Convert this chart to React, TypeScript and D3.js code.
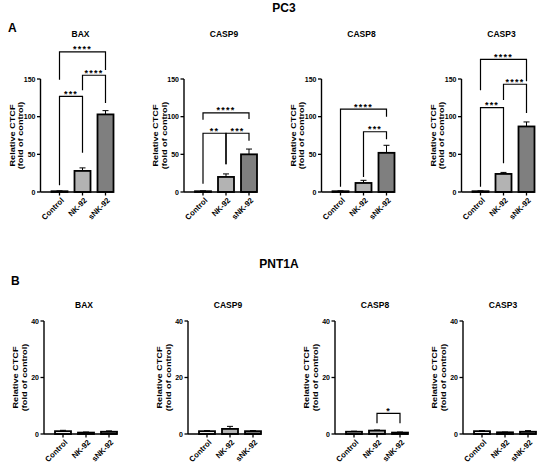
import React from 'react';
import * as d3 from 'd3';

const categories = ['Control', 'NK-92', 'sNK-92'];
const genes = ['BAX', 'CASP9', 'CASP8', 'CASP3'];

// PC3 means / SEM (fold of control)
const pc3Mean = [
  [1, 28, 103],
  [1, 20, 50],
  [1, 12, 52],
  [1, 24, 87],
];
const pc3Err = [
  [0.5, 4, 5],
  [0.5, 4, 7],
  [0.5, 3.5, 10],
  [0.5, 2, 6],
];

// PNT1A means / SEM
const pnt1aMean = [
  [1.0, 0.5, 0.8],
  [1.0, 1.8, 1.0],
  [0.8, 1.2, 0.5],
  [1.0, 0.6, 0.8],
];
const pnt1aErr = [
  [0.3, 0.2, 0.3],
  [0.2, 0.9, 0.2],
  [0.2, 0.2, 0.2],
  [0.2, 0.1, 0.4],
];

const pc3Ticks = [0, 50, 100, 150];
const pnt1aTicks = [0, 20, 40];

// brackets: [from, to, level, leftEnd, rightEnd, label]
type Bracket = [number, number, number, number, number, string];
const pc3Brackets: Bracket[][] = [
  [[0, 1, 127, 9, 52, '***'], [1, 2, 155, 135, 118, '****'], [0, 2, 186, 149, 162, '****']],
  [[0, 1, 78, 11, 37, '**'], [1, 2, 78, 37, 68, '***'], [0, 2, 105, 96, 97, '****']],
  [[0, 2, 110, 7, 100, '****'], [1, 2, 80, 20, 70, '***']],
  [[0, 1, 112, 7, 38, '***'], [1, 2, 143, 122, 105, '****'], [0, 2, 176, 135, 147, '****']],
];
const pnt1aBrackets: Bracket[][] = [[], [], [[1, 2, 7.3, 3.8, 3.8, '*']], []];

const fills = ['#ffffff', '#b3b3b3', '#7f7f7f'];
const FONT = '"Liberation Sans", Arial, sans-serif';

type PanelProps = {
  title: string;
  means: number[];
  errs: number[];
  ticks: number[];
  brackets: Bracket[];
  ax: number; // y-axis x position
  y0: number; // baseline
  yTop: number; // pixel of max tick
  titleY: number;
};

const Panel: React.FC<PanelProps> = ({ title, means, errs, ticks, brackets, ax, y0, yTop, titleY }) => {
  const maxT = ticks[ticks.length - 1];
  const y = d3.scaleLinear().domain([0, maxT]).range([y0, yTop]);
  const x = d3.scalePoint<string>().domain(categories).range([ax + 19, ax + 65]);
  const bw = 16;
  const midY = (y0 + yTop) / 2;

  return (
    <g fontFamily={FONT} fontWeight="bold" fill="#000">
      <text x={ax + 40} y={titleY} fontSize={8.5} textAnchor="middle">{title}</text>
      {/* y axis */}
      <line x1={ax} x2={ax} y1={y0} y2={yTop} stroke="#000" strokeWidth={1.4} />
      {ticks.map((t) => (
        <g key={t}>
          <line x1={ax - 3.5} x2={ax} y1={y(t)} y2={y(t)} stroke="#000" strokeWidth={1.3} />
          <text x={ax - 5} y={y(t)} dy="0.36em" fontSize={7} textAnchor="end">{t}</text>
        </g>
      ))}
      <text transform={`translate(${ax - 26},${midY}) rotate(-90) scale(1.22,1)`} fontSize={7.5} textAnchor="middle">Relative CTCF</text>
      <text transform={`translate(${ax - 17.5},${midY}) rotate(-90) scale(1.22,1)`} fontSize={7.5} textAnchor="middle">(fold of control)</text>
      {/* bars */}
      {categories.map((c, i) => {
        const cx = x(c)!;
        const top = y(means[i]);
        const etop = y(means[i] + errs[i]);
        return (
          <g key={c}>
            <line x1={cx} x2={cx} y1={top} y2={etop} stroke="#000" strokeWidth={1} />
            <line x1={cx - 3} x2={cx + 3} y1={etop} y2={etop} stroke="#000" strokeWidth={1} />
            <rect x={cx - bw / 2} y={top} width={bw} height={y0 - top} fill={fills[i]} stroke="#000" strokeWidth={1.8} />
            <line x1={cx} x2={cx} y1={y0} y2={y0 + 3.5} stroke="#000" strokeWidth={1.3} />
            <text transform={`translate(${cx + 3},${y0 + 7}) rotate(-45)`} fontSize={7.8} textAnchor="end" dy="0.35em">{c}</text>
          </g>
        );
      })}
      {/* x axis */}
      <line x1={ax} x2={ax + 73} y1={y0} y2={y0} stroke="#000" strokeWidth={1.4} />
      {/* significance brackets */}
      {brackets.map(([a, b, lvl, le, re, lab], k) => {
        const xa = x(categories[a])!;
        const xb = x(categories[b])!;
        return (
          <g key={k}>
            <path d={`M${xa},${y(le)}V${y(lvl)}H${xb}V${y(re)}`} fill="none" stroke="#000" strokeWidth={1.2} />
            <text x={(xa + xb) / 2} y={y(lvl) + 0.5} fontSize={9} textAnchor="middle" letterSpacing={1.2}>{lab}</text>
          </g>
        );
      })}
    </g>
  );
};

const topAxes = [40.5, 184, 321.5, 461.5];
const botAxes = [44, 188, 335, 463];

const App: React.FC = () => {
  return (
    <svg width={550} height={469} viewBox="0 0 550 469" style={{ position: 'absolute', left: 0, top: 0, background: '#fff' }}>
      <rect width={550} height={469} fill="#fff" />
      <g fontFamily={FONT} fontWeight="bold">
        <text x={284} y={12} fontSize={12} textAnchor="middle">PC3</text>
        <text x={8} y={32} fontSize={12}>A</text>
        <text x={279} y={268} fontSize={12} textAnchor="middle">PNT1A</text>
        <text x={11} y={285} fontSize={12}>B</text>
      </g>
      {genes.map((g, i) => (
        <Panel key={'a' + g} title={g} means={pc3Mean[i]} errs={pc3Err[i]} ticks={pc3Ticks}
          brackets={pc3Brackets[i]} ax={topAxes[i]} y0={192} yTop={79} titleY={37} />
      ))}
      {genes.map((g, i) => (
        <Panel key={'b' + g} title={g} means={pnt1aMean[i]} errs={pnt1aErr[i]} ticks={pnt1aTicks}
          brackets={pnt1aBrackets[i]} ax={botAxes[i]} y0={434} yTop={321} titleY={308} />
      ))}
    </svg>
  );
};

export default App;
